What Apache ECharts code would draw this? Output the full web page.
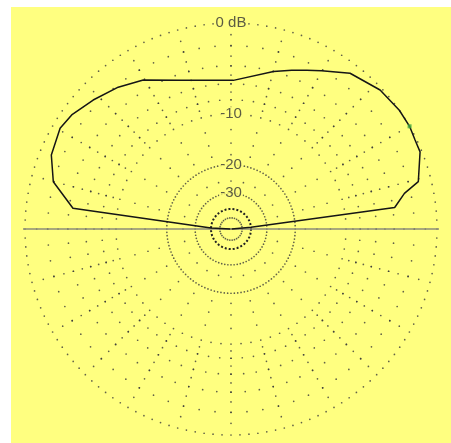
<!DOCTYPE html>
<html><head><meta charset="utf-8">
<script src="https://cdn.jsdelivr.net/npm/echarts@6/dist/echarts.min.js"></script>
<style>html,body{margin:0;padding:0;background:#fff;width:451px;height:443px;overflow:hidden}
#c{position:absolute;left:11px;top:7px;width:440px;height:436px}</style></head>
<body><div id="c"></div><script>
// Elevation pattern (degrees above horizon, counter-clockwise from right) and gain in dB
const elevationDeg = [0, 4.7, 7.5, 11.6, 14.2, 22.2, 25.8, 29.9, 35.2, 43, 52.6, 60.2, 64.5, 69.1, 74.9, 89.1, 108.4, 120.5, 128.5, 136.9, 144.4, 149.5, 157.6, 165.1, 172.5, 177, 180];
const gainDb = [-99, -40, -3.8, -2.6, -1.1, -0.15, -0.13, 0, 0, -0.18, -0.85, -2.1, -2.7, -3.3, -4.0, -5.6, -4.7, -3.0, -2.2, -1.5, -0.86, -0.65, -1.0, -1.95, -4.4, -40, -99];
const maxPoint = [29.9, 0];
const ringLabels = ['0 dB', '-10', '-20', '-30'];
const ringLabelDb = [0, -10, -20, -30];
// grid definition
const ringDb = [0, -2, -4, -6, -8, -10, -20, -30, -50];
const ringStepDeg = [2.5, 5, 5, 5, 5, 5, 3, 5, 12];
const radialStepDeg = 15;
const radialDotDb = [-1, -2, -3, -4, -5, -6, -7, -8, -9, -12.5, -15, -17.5, -25];
const boldRingDb = -40;

// ARRL log-periodic scale
const arrl = db => Math.pow(0.89, -db / 2);
const RMAX = 208 / 206;

const gridDots = [];
ringDb.forEach((db, i) => {
  for (let a = 0; a < 360; a += ringStepDeg[i]) gridDots.push([arrl(db), a]);
});
for (let a = 0; a < 360; a += radialStepDeg) {
  radialDotDb.forEach(db => gridDots.push([arrl(db), a]));
}
const boldRing = [];
for (let a = 0; a <= 360; a += 2) boldRing.push([arrl(boldRingDb), a]);

const pattern = elevationDeg.map((a, i) => [arrl(gainDb[i]), a]);

const chart = echarts.init(document.getElementById('c'));
chart.setOption({
  animation: false,
  backgroundColor: '#ffff80',
  polar: { center: [220, 222], radius: [0, 208] },
  angleAxis: { type: 'value', min: 0, max: 360, startAngle: 0, clockwise: false, show: false },
  radiusAxis: { type: 'value', min: 0, max: RMAX, show: false },
  series: [
    { type: 'scatter', coordinateSystem: 'polar', data: gridDots, symbolSize: 1.7,
      itemStyle: { color: '#3a3a3a' }, silent: true, z: 1 },
    { type: 'line', coordinateSystem: 'polar', data: boldRing, symbol: 'none',
      lineStyle: { color: '#222', width: 2, type: [2, 2] }, silent: true, z: 2 },
    { type: 'line', coordinateSystem: 'polar', data: [[RMAX, 0], [RMAX, 180]], symbol: 'none',
      lineStyle: { color: '#8c8c78', width: 1.5 }, silent: true, z: 3 },
    { type: 'scatter', coordinateSystem: 'polar', symbolSize: 1,
      data: ringLabelDb.map(db => [arrl(db), 90]),
      itemStyle: { color: 'rgba(0,0,0,0)' },
      label: { show: true, position: 'inside', formatter: p => ringLabels[p.dataIndex],
        fontFamily: 'Liberation Sans, Arial, sans-serif', fontSize: 15, color: '#333',
        backgroundColor: '#ffff80', padding: [0, 1, 0, 1] }, z: 4 },
    { type: 'line', coordinateSystem: 'polar', data: pattern, symbol: 'none',
      lineStyle: { color: '#151515', width: 1.5 }, z: 5 },
    { type: 'scatter', coordinateSystem: 'polar', data: [[arrl(maxPoint[1]), maxPoint[0]]],
      symbol: 'rect', symbolSize: 4, itemStyle: { color: '#3fa53f' }, z: 6 }
  ]
});
</script></body></html>
